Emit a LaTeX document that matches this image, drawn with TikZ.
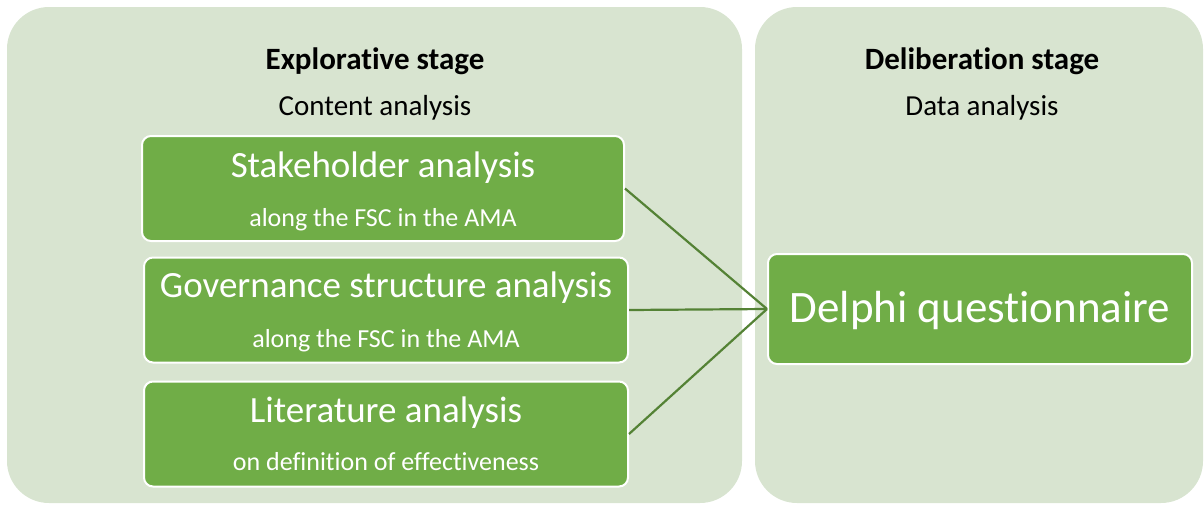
\documentclass[tikz,border=0pt]{standalone}
\usepackage{fontspec}
\setmainfont{Carlito}[Ligatures=NoCommon]
\definecolor{panelfill}{RGB}{216,228,208}
\definecolor{boxfill}{RGB}{112,173,71}
\definecolor{linkgreen}{RGB}{84,130,53}
\begin{document}
\begin{tikzpicture}[x=1pt,y=-1pt,
  panel/.style={fill=panelfill, rounded corners=42pt},
  stagebox/.style={draw=white, line width=2pt, fill=boxfill, rounded corners=9pt,
    inner sep=0pt, minimum width=484pt, minimum height=105pt},
  titletext/.style={anchor=base, inner sep=0pt, font=\fontsize{31}{36}\selectfont\bfseries},
  subtext/.style={anchor=base, inner sep=0pt, font=\fontsize{29}{34}\selectfont},
  boxhead/.style={anchor=base, inner sep=0pt, text=white, font=\fontsize{37}{44}\selectfont},
  boxsub/.style={anchor=base, inner sep=0pt, text=white, font=\fontsize{26}{31}\selectfont},
  link/.style={draw=linkgreen, line width=2.2pt}]
\useasboundingbox (0,0) rectangle (1204,504);

% stage panels
\fill[panel] (7,7) rectangle (742,503);
\fill[panel] (755,7) rectangle (1203,503);

% panel headings
\node[titletext] (exptitle) at (375,69) {Explorative stage};
\node[subtext] (expsub) at (375,115) {Content analysis};
\node[titletext] (deltitle) at (982,69) {Deliberation stage};
\node[subtext] (delsub) at (982,115) {Data analysis};

% explorative analyses
\node[stagebox, minimum width=482pt] (stake) at (383,188.5) {};
\node[boxhead] (staket) at (383,177) {Stakeholder analysis};
\node[boxsub] (stakes) at (383,226) {along the FSC in the AMA};

\node[stagebox] (gov) at (386,310) {};
\node[boxhead] (govt) at (386,297) {Governance structure analysis};
\node[boxsub] (govs) at (386,347) {along the FSC in the AMA};

\node[stagebox] (lit) at (386,434) {};
\node[boxhead] (litt) at (386,422) {Literature analysis};
\node[boxsub] (lits) at (386,470) {on definition of effectiveness};

% deliberation
\node[stagebox, minimum width=424pt, minimum height=110pt] (delphi) at (980,309) {};
\node[boxhead, font=\fontsize{45}{54}\selectfont] (delphit) at (980,322) {Delphi questionnaire};

% connectors
\draw[link] (stake.east) -- (delphi.west);
\draw[link] (gov.east) -- (delphi.west);
\draw[link] (lit.east) -- (delphi.west);
\end{tikzpicture}
\end{document}
